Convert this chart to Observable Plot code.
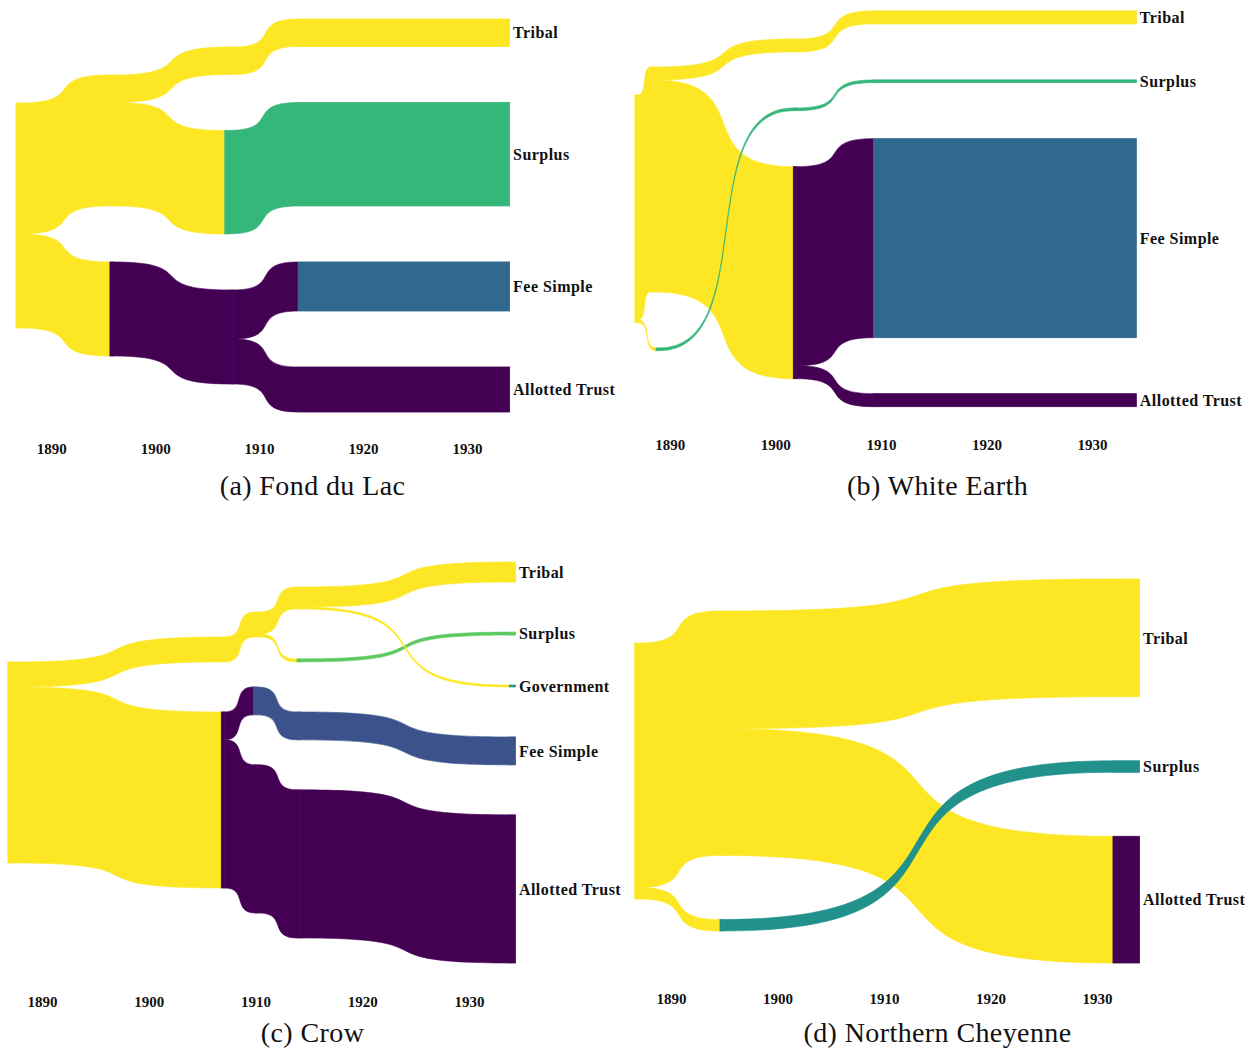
<!DOCTYPE html>
<html>
<head>
<meta charset="utf-8">
<script src="https://cdn.jsdelivr.net/npm/d3@7"></script>
<script src="https://cdn.jsdelivr.net/npm/@observablehq/plot@0.6"></script>
<style>
  html, body { margin: 0; padding: 0; background: #fff; }
  #root { position: relative; width: 1250px; height: 1051px; overflow: hidden; }
  .panel { position: absolute; width: 625px; }
  .panel svg g[aria-label="text"] text { letter-spacing: 0.45px; }
  .caption { height: 36px; line-height: 36px; text-align: center; font-family: 'Liberation Serif', serif; font-size: 28px; letter-spacing: 0.4px; color: #111; }
</style>
</head>
<body>
<div id="root"></div>
<script>
// ---------------- DATA ----------------
const tickYears = [1890, 1900, 1910, 1920, 1930];

// categories per panel (viridis order)
const catsFourLand = ["Allotted Trust", "Fee Simple", "Surplus", "Tribal"];
const catsCrow = ["Allotted Trust", "Fee Simple", "Government", "Surplus", "Tribal"];
const catsCheyenne = ["Allotted Trust", "Surplus", "Tribal"];

// nodes: [id, land status, year, stage]
const fondDuLacNodes = [
  ["T0", "Tribal", 1886.6, 0],
  ["T1", "Tribal", 1895.65, 1], ["A1", "Allotted Trust", 1895.65, 1],
  ["T2", "Tribal", 1907.2, 2], ["S2", "Surplus", 1906.7, 2], ["A2", "Allotted Trust", 1907.2, 2],
  ["T3", "Tribal", 1913.75, 3], ["S3", "Surplus", 1913.75, 3], ["F3", "Fee Simple", 1913.75, 3], ["A3", "Allotted Trust", 1913.75, 3]
];
// flows: [source, target, % of 1887 land]
const fondDuLacFlows = [
  ["T0", "T1", 58.2], ["T0", "A1", 41.8],
  ["T1", "T2", 12.2], ["T1", "S2", 46.0], ["A1", "A2", 41.8],
  ["T2", "T3", 12.2], ["S2", "S3", 46.0], ["A2", "F3", 21.8], ["A2", "A3", 20.0]
];
const fondDuLacEnd = 1934.1;

const whiteEarthNodes = [
  ["T0", "Tribal", 1886.7, 0],
  ["T1", "Tribal", 1888.2, 1], ["S1", "Surplus", 1888.7, 1],
  ["T2", "Tribal", 1901.7, 2], ["S2", "Surplus", 1901.7, 2], ["A2", "Allotted Trust", 1901.7, 2],
  ["T3", "Tribal", 1909.3, 3], ["S3", "Surplus", 1909.3, 3], ["F3", "Fee Simple", 1909.3, 3], ["A3", "Allotted Trust", 1909.3, 3]
];
const whiteEarthFlows = [
  ["T0", "T1", 98.7],
  ["T1", "T2", 5.7], ["T1", "A2", 93.0],
  ["T2", "T3", 5.7], ["A2", "F3", 87.3], ["A2", "A3", 5.7],
  ["T0", "S1", 1.2], ["S1", "S2", 1.2], ["S2", "S3", 1.2]
];
const whiteEarthEnd = 1934.2;

const crowNodes = [
  ["T0", "Tribal", 1886.8, 0],
  ["T1", "Tribal", 1906.8, 1], ["A1", "Allotted Trust", 1906.8, 1],
  ["T2", "Tribal", 1910.0, 2], ["F2", "Fee Simple", 1909.8, 2], ["A2", "Allotted Trust", 1910.0, 2],
  ["T3", "Tribal", 1913.9, 3], ["S3", "Surplus", 1913.9, 3], ["F3", "Fee Simple", 1913.9, 3], ["A3", "Allotted Trust", 1913.9, 3],
  ["T4", "Tribal", 1933.8, 4], ["S4", "Surplus", 1933.8, 4], ["G4", "Government", 1933.8, 4], ["F4", "Fee Simple", 1933.8, 4], ["A4", "Allotted Trust", 1933.8, 4]
];
const crowFlows = [
  ["T0", "T1", 12.4], ["T0", "A1", 87.6],
  ["T1", "T2", 12.4], ["A1", "F2", 13.9], ["A1", "A2", 73.7],
  ["T2", "T3", 10.9], ["T2", "S3", 1.5], ["F2", "F3", 13.9], ["A2", "A3", 73.7],
  ["T3", "T4", 10.0], ["F3", "F4", 13.9], ["A3", "A4", 73.7],
  ["S3", "S4", 1.5], ["T3", "G4", 0.9]
];
const crowEnd = 1934.35;

const cheyenneNodes = [
  ["T0", "Tribal", 1886.6, 0],
  ["T1", "Tribal", 1894.6, 1], ["S1", "Surplus", 1894.6, 1],
  ["T2", "Tribal", 1931.5, 2], ["S2", "Surplus", 1931.5, 2], ["A2", "Allotted Trust", 1931.5, 2]
];
const cheyenneFlows = [
  ["T0", "T1", 95.5], ["T0", "S1", 4.5],
  ["T1", "T2", 46.0], ["T1", "A2", 49.5],
  ["S1", "S2", 4.5]
];
const cheyenneEnd = 1934.0;

// ---------------- LAYOUT / STYLE ----------------
const panels = [
  {caption: "(a) Fond du Lac", nodes: fondDuLacNodes, flows: fondDuLacFlows, cats: catsFourLand, end: fondDuLacEnd,
   left: 0, top: 0, height: 468, mb: 25, xr: [51.2, 467], cy: 215.5, k: 2.25, pad: 56},
  {caption: "(b) White Earth", nodes: whiteEarthNodes, flows: whiteEarthFlows, cats: catsFourLand, end: whiteEarthEnd,
   left: 625, top: 0, height: 468, mb: 29, xr: [44.8, 467], cy: 208.8, k: 2.28, pad: 56},
  {caption: "(c) Crow", nodes: crowNodes, flows: crowFlows, cats: catsCrow, end: crowEnd,
   left: 0, top: 540, height: 475, mb: 19, xr: [42, 469], cy: 222.5, k: 2.01, pad: 50},
  {caption: "(d) Northern Cheyenne", nodes: cheyenneNodes, flows: cheyenneFlows, cats: catsCheyenne, end: cheyenneEnd,
   left: 625, top: 540, height: 475, mb: 22, xr: [46, 472], cy: 231, k: 2.56, pad: 64}
];

// S-shaped ribbon curve (flat ends, steeper middle)
const SHARP = 0.76;
class Sig {
  constructor(ctx) { this._context = ctx; }
  areaStart() { this._line = 0; }
  areaEnd() { this._line = NaN; }
  lineStart() { this._point = 0; }
  lineEnd() {
    if (this._line || (this._line !== 0 && this._point === 1)) this._context.closePath();
    this._line = 1 - this._line;
  }
  point(x, y) {
    x = +x; y = +y;
    if (this._point === 0) {
      this._point = 1;
      if (this._line) this._context.lineTo(x, y); else this._context.moveTo(x, y);
    } else {
      this._point = 2;
      const dx = x - this._x0;
      this._context.bezierCurveTo(this._x0 + SHARP * dx, this._y0, x - SHARP * dx, y, x, y);
    }
    this._x0 = x; this._y0 = y;
  }
}
const sigmoid = ctx => new Sig(ctx);

function drawPanel(p) {
  const w = 0.3;
  const nodes = p.nodes.map(([id, cat, year, stage]) => ({id, cat, year, stage, ins: [], outs: []}));
  const byId = new Map(nodes.map(n => [n.id, n]));
  const links = p.flows.map(([s, t, v], i) => ({i, s: byId.get(s), t: byId.get(t), v}));
  links.forEach(l => { l.s.outs.push(l); l.t.ins.push(l); });
  nodes.forEach(n => n.value = Math.max(d3.sum(n.ins, l => l.v), d3.sum(n.outs, l => l.v)));
  const padU = p.pad / p.k;
  for (const [, col] of d3.group(nodes, n => n.stage)) {
    const total = d3.sum(col, n => n.value) + padU * (col.length - 1);
    let y = -total / 2;
    for (const n of col) { n.y0 = y; n.y1 = y + n.value; y = n.y1 + padU; }
  }
  for (const n of nodes) {
    let y = n.y0;
    for (const l of [...n.outs].sort((a, b) => a.t.y0 - b.t.y0)) { l.sy0 = y; y += l.v; l.sy1 = y; }
    y = n.y0;
    for (const l of [...n.ins].sort((a, b) => a.s.y0 - b.s.y0)) { l.ty0 = y; y += l.v; l.ty1 = y; }
    n.x0 = n.year;
    n.x1 = n.outs.length ? n.year + w : p.end;
  }
  const pts = links.flatMap(l => [
    {link: l.i, cat: l.s.cat, x: l.s.x1, ya: l.sy0, yb: l.sy1},
    {link: l.i, cat: l.s.cat, x: l.t.x0, ya: l.ty0, yb: l.ty1}
  ]);
  const finals = nodes.filter(n => !n.outs.length);
  const L = 150;
  const chart = Plot.plot({
    width: 625, height: p.height,
    marginTop: 0, marginLeft: 0, marginRight: 0, marginBottom: p.mb,
    x: {domain: [1890, 1930], range: p.xr, label: null},
    y: {domain: [-L, L], range: [p.cy - L * p.k, p.cy + L * p.k], axis: null},
    color: {domain: p.cats, range: d3.quantize(d3.interpolateViridis, p.cats.length)},
    style: {fontFamily: "'Liberation Serif', serif", fontSize: "15px", fontWeight: "bold", color: "#111", background: "#fff", overflow: "visible"},
    marks: [
      Plot.area(pts, {x1: "x", y1: "ya", y2: "yb", z: "link", fill: "cat", stroke: "cat", strokeWidth: 0.6, curve: sigmoid}),
      Plot.rect(nodes, {x1: "x0", x2: "x1", y1: "y0", y2: "y1", fill: "cat", stroke: "cat", strokeWidth: 0.8}),
      Plot.text(finals, {x: "x1", y: n => (n.y0 + n.y1) / 2, text: "cat", textAnchor: "start", dx: 3,
        fontSize: 16, fontWeight: "bold", fill: "#111"}),
      Plot.axisX({ticks: tickYears, tickSize: 0, tickPadding: 0, tickFormat: d => String(d), label: null,
        fontSize: 15, fontWeight: "bold", fill: "#111"})
    ]
  });
  const div = document.createElement("div");
  div.className = "panel";
  div.style.left = p.left + "px";
  div.style.top = p.top + "px";
  div.appendChild(chart);
  const cap = document.createElement("div");
  cap.className = "caption";
  cap.textContent = p.caption;
  div.appendChild(cap);
  document.getElementById("root").appendChild(div);
}
panels.forEach(drawPanel);
</script>
</body>
</html>
